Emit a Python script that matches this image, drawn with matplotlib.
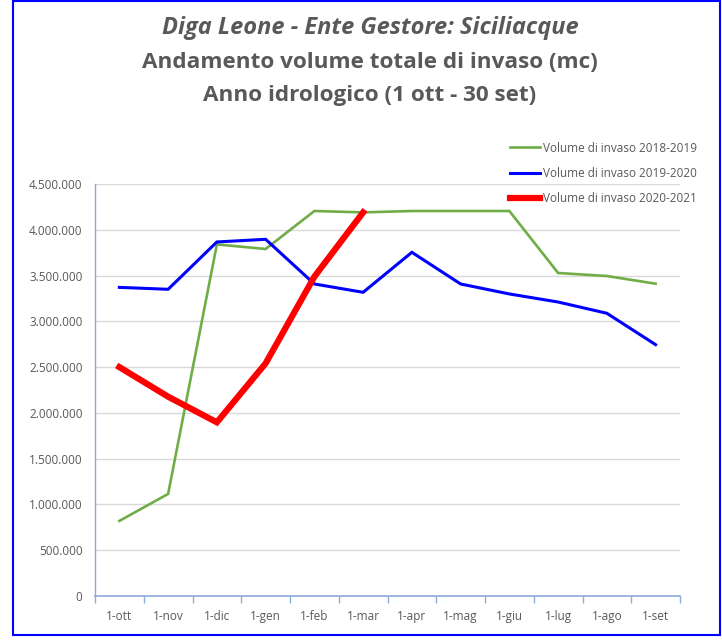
import matplotlib
matplotlib.use("Agg")
import matplotlib.pyplot as plt
from matplotlib.patches import Rectangle
from matplotlib.ticker import FuncFormatter, MultipleLocator, FixedLocator

months = ["1-ott", "1-nov", "1-dic", "1-gen", "1-feb", "1-mar",
          "1-apr", "1-mag", "1-giu", "1-lug", "1-ago", "1-set"]
vol_2018_2019 = [820000, 1115000, 3840000, 3790000, 4205000, 4190000,
                 4205000, 4205000, 4205000, 3528000, 3495000, 3411000]
vol_2019_2020 = [3371000, 3350000, 3867000, 3896000, 3408000, 3317000,
                 3754000, 3408000, 3299000, 3211000, 3088000, 2745000]
vol_2020_2021 = [2500000, 2177000, 1897000, 2541000, 3488000, 4190000]

labels = ["Volume di invaso 2018-2019", "Volume di invaso 2019-2020",
          "Volume di invaso 2020-2021"]

FONT = ["Open Sans", "DejaVu Sans"]
GRAY = "#595959"

fig = plt.figure(figsize=(7.22, 6.42), dpi=100)
W, H = 722, 642
ax = fig.add_axes([95 / W, (H - 596) / H, (680 - 95) / W, (596 - 184) / H])

x = list(range(len(months)))
ax.plot(x, vol_2018_2019, color="#70AD47", lw=1.9, label=labels[0], solid_joinstyle="miter")
ax.plot(x, vol_2019_2020, color="#0000FF", lw=2.2, label=labels[1], solid_joinstyle="miter")
ax.plot(x[:len(vol_2020_2021)], vol_2020_2021, color="#FF0000", lw=4.5,
        label=labels[2], solid_joinstyle="miter")

ax.set_xlim(-0.5, len(months) - 0.5)
ax.set_ylim(0, 4500000)
ax.yaxis.set_major_locator(MultipleLocator(500000))
ax.yaxis.set_major_formatter(FuncFormatter(lambda v, p: f"{int(v):,}".replace(",", ".")))
ax.grid(axis="y", color="#D9D9D9", lw=1)
ax.set_axisbelow(True)

ax.set_xticks(x)
ax.set_xticklabels(months)
ax.xaxis.set_minor_locator(FixedLocator([i - 0.5 for i in range(len(months) + 1)]))
ax.tick_params(axis="x", which="major", length=0, pad=10, labelsize=8.5, labelcolor=GRAY)
ax.tick_params(axis="x", which="minor", length=5, color="#8EA9DB", width=1)
ax.tick_params(axis="y", length=0, pad=9, labelsize=8.5, labelcolor=GRAY)
for lab in ax.get_xticklabels() + ax.get_yticklabels():
    lab.set_family(FONT)

for s in ["top", "right"]:
    ax.spines[s].set_visible(False)
ax.spines["left"].set_color("#8EA9DB")
ax.spines["bottom"].set_color("#8EA9DB")
ax.spines["left"].set_linewidth(1)
ax.spines["bottom"].set_linewidth(1.2)

leg = fig.legend(loc="upper left", bbox_to_anchor=(499 / W, 1 - 131 / H),
                 frameon=False, handlelength=2.6, handletextpad=0.2,
                 labelspacing=1.05, prop={"family": FONT, "size": 8.5})
for t in leg.get_texts():
    t.set_color(GRAY)

fig.text(370 / W, 1 - 28 / H, "Diga Leone - Ente Gestore: Siciliacque", ha="center", va="center",
         fontsize=17, style="italic", fontweight="bold", color=GRAY, family=FONT)
fig.text(370 / W, 1 - 62 / H, "Andamento volume totale di invaso (mc)", ha="center", va="center",
         fontsize=16.2, fontweight="bold", color=GRAY, family=FONT)
fig.text(370 / W, 1 - 96 / H, "Anno idrologico (1 ott - 30 set)", ha="center", va="center",
         fontsize=16.2, fontweight="bold", color=GRAY, family=FONT)

fig.patches.append(Rectangle((12.5 / W, (H - 635) / H), (720 - 12.5) / W, (634.5) / H,
                             transform=fig.transFigure, fill=False, ec="#0000FF", lw=1.5))

fig.savefig("out.png", dpi=100)
